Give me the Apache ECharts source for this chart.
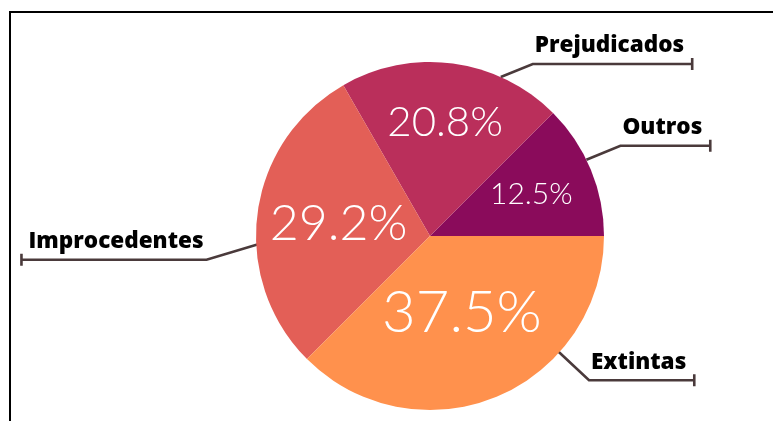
<!DOCTYPE html>
<html>
<head>
<meta charset="utf-8">
<script src="https://cdn.jsdelivr.net/npm/echarts@6/dist/echarts.min.js"></script>
<style>
  html, body { margin: 0; padding: 0; background: #fff; overflow: hidden; }
  #chart { width: 773px; height: 421px; }
  #frame {
    position: absolute; left: 9px; top: 11px; right: -10px; bottom: -10px;
    border-left: 2px solid #000; border-top: 2px solid #000; pointer-events: none;
  }
</style>
</head>
<body>
<div id="chart"></div>
<div id="frame"></div>
<script>
const categories = ['Outros', 'Prejudicados', 'Improcedentes', 'Extintas'];
const shares = [12.5, 20.8, 29.2, 37.5];
const sliceColors = ['#8a0b5b', '#ba2f5b', '#e35f57', '#ff914d'];

// pie geometry (px)
const CX = 430, CY = 236, R = 174;

// inner percentage labels: font size and distance from centre (fraction of radius)
const pctFont = [30, 42, 50, 58];
const pctRadius = [0.63, 0.66, 0.53, 0.48];

// leader lines: where they leave the pie (deg, fraction of radius) and the elbow offset
const leaders = [
  { angle: 26, rim: 1.0, dx: 34, dy: -14 },
  { angle: 66, rim: 1.0, dx: 32, dy: -13 },
  { angle: 182, rim: 0.94, dx: -60, dy: 18 },
  { angle: -42, rim: 0.99, dx: 31, dy: 29 }
];

const total = shares.reduce((a, b) => a + b, 0);
const midAngles = [];
let acc = 0;
shares.forEach(v => {
  midAngles.push((acc + v / 2) / total * 360);
  acc += v;
});

const chart = echarts.init(document.getElementById('chart'));

const option = {
  backgroundColor: '#fff',
  animation: false,
  series: [
    {
      type: 'pie',
      center: [CX, CY],
      radius: R,
      startAngle: 0,
      clockwise: false,
      silent: true,
      avoidLabelOverlap: false,
      data: categories.map((name, i) => ({
        name,
        value: shares[i],
        itemStyle: { color: sliceColors[i] },
        label: { fontSize: pctFont[i] }
      })),
      label: {
        show: true,
        position: 'inside',
        color: '#fff',
        fontFamily: 'Lato',
        fontWeight: 300,
        formatter: p => p.value.toFixed(1) + '%'
      },
      labelLine: { show: false },
      labelLayout: p => {
        const a = midAngles[p.dataIndex] * Math.PI / 180;
        const r = R * pctRadius[p.dataIndex];
        return {
          x: CX + r * Math.cos(a),
          y: CY - r * Math.sin(a),
          align: 'center',
          verticalAlign: 'middle'
        };
      }
    },
    {
      type: 'pie',
      center: [CX, CY],
      radius: R,
      startAngle: 0,
      clockwise: false,
      silent: true,
      avoidLabelOverlap: false,
      data: categories.map((name, i) => ({ name, value: shares[i] })),
      itemStyle: { color: 'rgba(0,0,0,0)' },
      label: {
        show: true,
        position: 'outside',
        formatter: '{b}',
        color: '#000',
        fontFamily: 'Open Sans',
        fontWeight: 800,
        fontSize: 22.5
      },
      labelLine: {
        show: true,
        length: 10,
        length2: 10,
        lineStyle: { color: '#4a3a3b', width: 2.6 }
      },
      labelLayout: p => {
        const g = leaders[p.dataIndex];
        const a = g.angle * Math.PI / 180;
        const sx = CX + R * g.rim * Math.cos(a);
        const sy = CY - R * g.rim * Math.sin(a);
        const ex = sx + g.dx, ey = sy + g.dy;
        const left = g.dx < 0;
        const w = p.labelRect.width;
        const endX = left ? ex - w - 10 : ex + w + 10;
        return {
          x: left ? ex - 3 : ex + 2,
          y: ey - 18,
          align: left ? 'right' : 'left',
          verticalAlign: 'middle',
          labelLinePoints: [[sx, sy], [ex, ey], [endX, ey], [endX, ey - 6], [endX, ey + 6]]
        };
      }
    }
  ]
};

chart.setOption(option);
</script>
</body>
</html>
